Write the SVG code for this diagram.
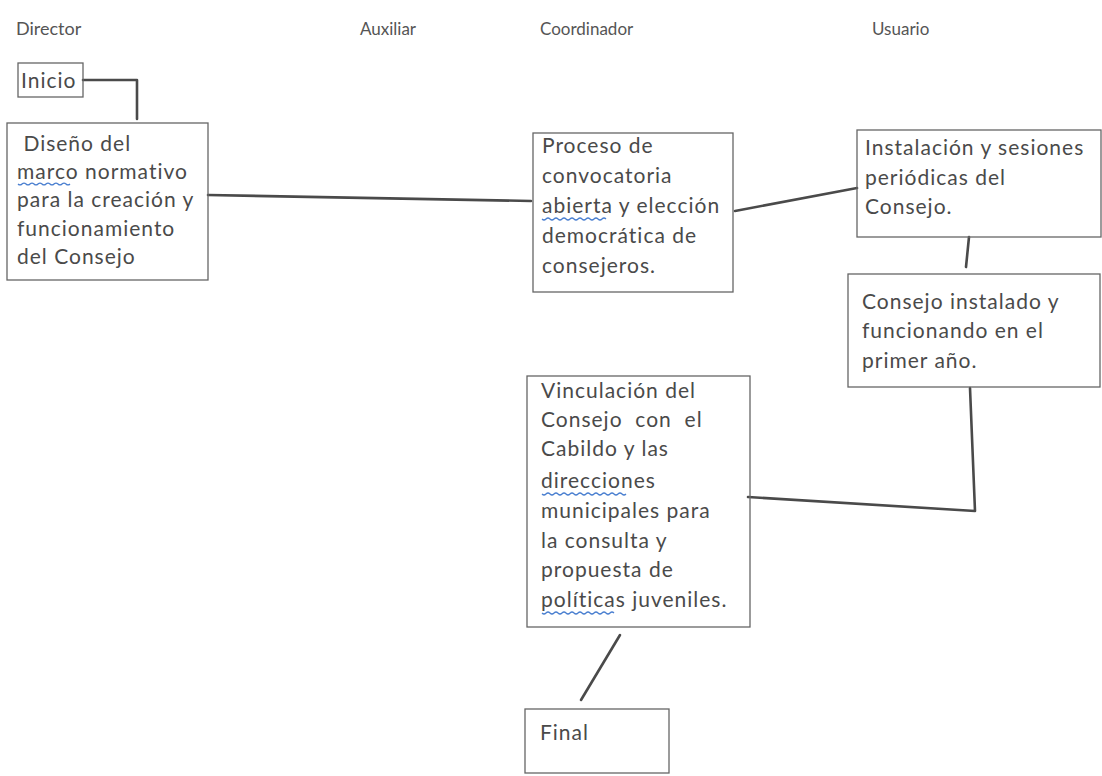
<svg xmlns="http://www.w3.org/2000/svg" width="1102" height="776" viewBox="0 0 1102 776">
<style>
.hdr{font-family:Lato,"Open Sans",sans-serif;font-size:17px;fill:#555}
.t{font-family:Lato,"Open Sans",sans-serif;font-size:21px;letter-spacing:1px;fill:#4a4a4a}
.box{fill:none;stroke:#666;stroke-width:1.3}
.con{fill:none;stroke:#4a4a4a;stroke-width:2.6;stroke-linecap:round;stroke-linejoin:round}
.sq{fill:none;stroke:#4a7fd0;stroke-width:1.2}
</style>
<rect width="1102" height="776" fill="#fff"/>
<g id="headers">
<text class="hdr" x="16" y="35" style="font-size:18px">Director</text>
<text class="hdr" x="360" y="35">Auxiliar</text>
<text class="hdr" x="540" y="35">Coordinador</text>
<text class="hdr" x="872" y="35">Usuario</text>
</g>
<g id="connectors">
<path class="con" d="M83 80 H137 V119"/>
<path class="con" d="M208 195 L531 201"/>
<path class="con" d="M735 211 L857 188"/>
<path class="con" d="M969 237 L966 267"/>
<path class="con" d="M970 388 L975 511 L748 497"/>
<path class="con" d="M620 635 L581 700"/>
</g>
<g id="n-inicio">
<rect class="box" x="18" y="63" width="65" height="34"/>
<text class="t" x="21" y="88">Inicio</text>
</g>
<g id="n-diseno">
<rect class="box" x="7" y="123" width="201" height="157"/>
<text class="t" x="17" y="151" xml:space="preserve"> Diseño del</text>
<text class="t" x="17" y="179">marco normativo</text>
<text class="t" x="17" y="207">para la creación y</text>
<text class="t" x="17" y="236">funcionamiento</text>
<text class="t" x="17" y="264">del Consejo</text>
<path class="sq" d="M18 184 q2 2 4 0 t4 0 t4 0 t4 0 t4 0 t4 0 t4 0 t4 0 t4 0 t4 0 t4 0 t4 0 t4 0"/>
</g>
<g id="n-proceso">
<rect class="box" x="533" y="133" width="200" height="159"/>
<text class="t" x="542" y="153">Proceso de</text>
<text class="t" x="542" y="183">convocatoria</text>
<text class="t" x="542" y="213">abierta y elección</text>
<text class="t" x="542" y="243">democrática de</text>
<text class="t" x="542" y="273">consejeros.</text>
<path class="sq" d="M542 219 q2 2 4 0 t4 0 t4 0 t4 0 t4 0 t4 0 t4 0 t4 0 t4 0 t4 0 t4 0 t4 0 t4 0 t4 0 t4 0 t4 0"/>
</g>
<g id="n-instalacion">
<rect class="box" x="857" y="130" width="244" height="107"/>
<text class="t" x="865" y="155">Instalación y sesiones</text>
<text class="t" x="865" y="185">periódicas del</text>
<text class="t" x="865" y="214">Consejo.</text>
</g>
<g id="n-consejo">
<rect class="box" x="848" y="274" width="252" height="113"/>
<text class="t" x="862" y="309">Consejo instalado y</text>
<text class="t" x="862" y="338">funcionando en el</text>
<text class="t" x="862" y="368">primer año.</text>
</g>
<g id="n-vinculacion">
<rect class="box" x="527" y="376" width="223" height="251"/>
<text class="t" x="541" y="398">Vinculación del</text>
<text class="t" x="541" y="427" xml:space="preserve">Consejo  con  el</text>
<text class="t" x="541" y="456">Cabildo y las</text>
<text class="t" x="541" y="488">direcciones</text>
<text class="t" x="541" y="518">municipales para</text>
<text class="t" x="541" y="548">la consulta y</text>
<text class="t" x="541" y="577">propuesta de</text>
<text class="t" x="541" y="607">políticas juveniles.</text>
<path class="sq" d="M542 494 q2 2 4 0 t4 0 t4 0 t4 0 t4 0 t4 0 t4 0 t4 0 t4 0 t4 0 t4 0 t4 0 t4 0 t4 0 t4 0 t4 0 t4 0 t4 0 t4 0 t4 0 t4 0"/>
<path class="sq" d="M542 613 q2 2 4 0 t4 0 t4 0 t4 0 t4 0 t4 0 t4 0 t4 0 t4 0 t4 0 t4 0 t4 0 t4 0 t4 0 t4 0 t4 0 t4 0 t4 0"/>
</g>
<g id="n-final">
<rect class="box" x="525" y="709" width="144" height="64"/>
<text class="t" x="540" y="740">Final</text>
</g>
</svg>
